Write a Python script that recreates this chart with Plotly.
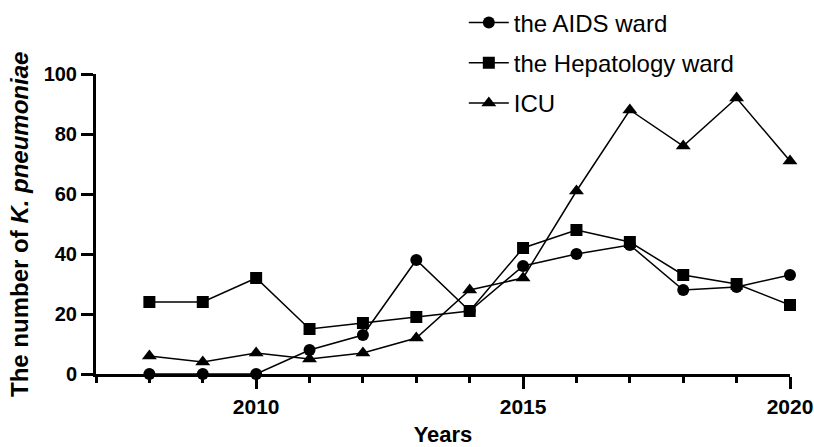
import plotly.graph_objects as go

years = list(range(2008, 2021))
aids_ward = [0, 0, 0, 8, 13, 38, 21, 36, 40, 43, 28, 29, 33]
hepatology_ward = [24, 24, 32, 15, 17, 19, 21, 42, 48, 44, 33, 30, 23]
icu = [6, 4, 7, 5, 7, 12, 28, 32, 61, 88, 76, 92, 71]

series = [
    ("the AIDS ward", aids_ward, "circle"),
    ("the Hepatology ward", hepatology_ward, "square"),
    ("ICU", icu, "triangle-up"),
]

FONT = "Arial, Liberation Sans, Helvetica, sans-serif"

fig = go.Figure()
for i, (name, vals, sym) in enumerate(series):
    fig.add_trace(go.Scatter(
        x=years, y=vals, name=name, mode="lines+markers",
        line=dict(color="black", width=1.5),
        marker=dict(symbol=sym, size=12 if sym != "triangle-up" else 13, color="black"),
        cliponaxis=False, legendgroup=f"g{i}",
    ))

fig.add_annotation(
    text="<b>The number of <i>K. pneumoniae</i></b>",
    xref="paper", yref="paper", x=-0.111, y=0.5,
    xanchor="center", yanchor="middle", textangle=-90, showarrow=False,
    font=dict(size=24, family=FONT, color="black"),
)

fig.update_layout(
    width=814, height=447,
    margin=dict(l=96, r=24, t=74, b=73, autoexpand=False),
    paper_bgcolor="white", plot_bgcolor="white",
    font=dict(family=FONT, color="black"),
    showlegend=True,
    legend=dict(
        x=0.53, y=1.245, xanchor="left", yanchor="top",
        font=dict(size=24, family=FONT, color="black"),
        tracegroupgap=6, itemwidth=40, bgcolor="rgba(0,0,0,0)",
    ),
    xaxis=dict(
        range=[2007, 2020], showgrid=False, zeroline=False, automargin=False,
        showline=True, linecolor="black", linewidth=3,
        ticks="outside", tick0=2010, dtick=5, ticklen=12, tickwidth=3, tickcolor="black",
        minor=dict(ticks="outside", dtick=1, tick0=2007, ticklen=6, tickwidth=3, tickcolor="black"),
        tickfont=dict(size=21, family=FONT, color="black", weight="bold"),
        title=dict(text="<b>Years</b>", font=dict(size=22, family=FONT, color="black"), standoff=17),
    ),
    yaxis=dict(
        range=[0, 100], showgrid=False, zeroline=False, automargin=False,
        showline=True, linecolor="black", linewidth=3,
        ticks="outside", dtick=20, ticklen=12, tickwidth=3, tickcolor="black",
        tickfont=dict(size=20, family=FONT, color="black", weight="bold"),
    ),
)

fig.write_html("out.html", config={"displayModeBar": False},
               post_script="document.body.style.margin='0';")
